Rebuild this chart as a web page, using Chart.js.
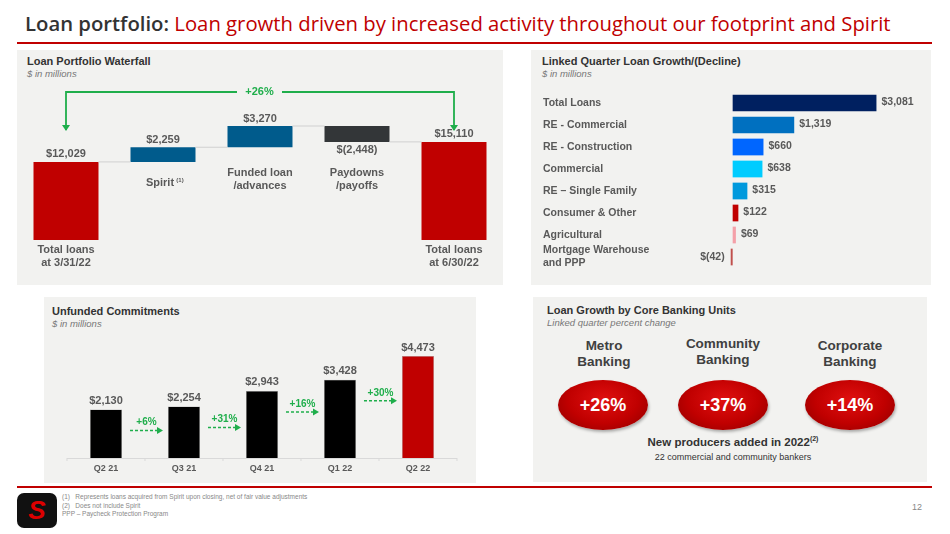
<!DOCTYPE html>
<html>
<head>
<meta charset="utf-8">
<script src="https://cdn.jsdelivr.net/npm/chart.js@4.4.0/dist/chart.umd.min.js"></script>
<style>
  body { margin:0; width:950px; height:534px; position:relative; background:#fff; font-family:"Liberation Sans", Arial, sans-serif; overflow:hidden; }
  .abs { position:absolute; }
  .panel { position:absolute; background:#f2f2f0; }
  .ptitle { position:absolute; font-size:11px; font-weight:bold; color:#333; }
  .psub { position:absolute; font-size:9.5px; font-style:italic; color:#777; }
  canvas { position:absolute; }
  .unit { position:absolute; text-align:center; font-weight:bold; color:#404040; font-size:13.5px; line-height:16px; width:120px; }
  .oval { position:absolute; width:90px; height:50px; border-radius:50%; background:radial-gradient(ellipse at 50% 40%, #e01010 0%, #c00000 55%, #8a0000 100%); color:#fff; font-weight:bold; font-size:18px; text-align:center; line-height:50px; box-shadow:1px 2px 3px rgba(0,0,0,0.3); }
</style>
</head>
<body>
<div class="abs" style="left:25px;top:9px;font-family:'Open Sans',sans-serif;font-size:20.3px;font-weight:600;color:#333;white-space:nowrap;">Loan portfolio: <span style="color:#c00000;font-weight:400;">Loan growth driven by increased activity throughout our footprint and Spirit</span></div>
<div class="abs" style="left:17px;top:42px;width:915px;height:2px;background:#c00000;"></div>

<div class="panel" style="left:17px;top:50px;width:486px;height:235px;"></div>
<div class="ptitle" style="left:27px;top:55px;">Loan Portfolio Waterfall</div>
<div class="psub" style="left:27px;top:68px;">$ in millions</div>
<canvas id="wf" style="left:17px;top:50px;width:486px;height:235px;" width="486" height="235"></canvas>

<div class="panel" style="left:531px;top:50px;width:400px;height:235px;"></div>
<div class="ptitle" style="left:542px;top:55px;">Linked Quarter Loan Growth/(Decline)</div>
<div class="psub" style="left:542px;top:68px;">$ in millions</div>
<canvas id="hb" style="left:531px;top:50px;width:400px;height:235px;" width="400" height="235"></canvas>

<div class="panel" style="left:44px;top:297px;width:432px;height:186px;"></div>
<div class="ptitle" style="left:52px;top:305px;">Unfunded Commitments</div>
<div class="psub" style="left:52px;top:318px;">$ in millions</div>
<canvas id="uc" style="left:44px;top:297px;width:432px;height:186px;" width="432" height="186"></canvas>

<div class="panel" style="left:533px;top:297px;width:394px;height:185px;"></div>
<div class="ptitle" style="left:547px;top:304px;">Loan Growth by Core Banking Units</div>
<div class="psub" style="left:547px;top:317px;">Linked quarter percent change</div>
<div class="unit" style="left:544px;top:338px;">Metro<br>Banking</div>
<div class="unit" style="left:663px;top:336px;">Community<br>Banking</div>
<div class="unit" style="left:790px;top:338px;">Corporate<br>Banking</div>
<div class="oval" style="left:558px;top:380px;">+26%</div>
<div class="oval" style="left:678px;top:380px;">+37%</div>
<div class="oval" style="left:805px;top:380px;">+14%</div>
<div class="abs" style="left:600px;top:435px;width:266px;text-align:center;font-size:11.5px;font-weight:bold;color:#333;">New producers added in 2022<sup style="font-size:7px;">(2)</sup></div>
<div class="abs" style="left:600px;top:452px;width:266px;text-align:center;font-size:9px;color:#333;">22 commercial and community bankers</div>

<div class="abs" style="left:17px;top:486px;width:915px;height:1.5px;background:#c00000;"></div>
<div class="abs" style="left:17px;top:493px;width:40px;height:35px;background:#111;border-radius:7px;color:#d00;font-weight:bold;font-style:italic;font-size:26px;text-align:center;line-height:35px;">S</div>
<div class="abs" style="left:62px;top:493px;font-size:6.5px;color:#888;line-height:8.5px;">(1)&nbsp;&nbsp; Represents loans acquired from Spirit upon closing, net of fair value adjustments<br>(2)&nbsp;&nbsp; Does not include Spirit<br>PPP – Paycheck Protection Program</div>
<div class="abs" style="left:912px;top:502px;font-size:9px;color:#888;">12</div>

<script>
// ---- waterfall data
const wfCats = ['Total loans\nat 3/31/22', 'Spirit', 'Funded loan\n/advances', 'Paydowns\n/payoffs', 'Total loans\nat 6/30/22'];
const wfStart = [0, 12029, 14288, 17558, 0];
const wfEnd = [12029, 14288, 17558, 15110, 15110];
const wfLabels = ['$12,029', '$2,259', '$3,270', '$(2,448)', '$15,110'];
const wfColors = ['#c00000', '#005b8c', '#005b8c', '#333638', '#c00000'];

// ---- linked quarter data
const lqCats = ['Total Loans', 'RE - Commercial', 'RE - Construction', 'Commercial', 'RE – Single Family', 'Consumer & Other', 'Agricultural', 'Mortgage Warehouse\nand PPP'];
const lqValues = [3081, 1319, 660, 638, 315, 122, 69, -42];
const lqColors = ['#002060', '#0070c0', '#0066ff', '#00ccff', '#0099dd', '#c00000', '#f4a0a8', '#c0504d'];

// ---- unfunded commitments
const ucCats = ['Q2 21', 'Q3 21', 'Q4 21', 'Q1 22', 'Q2 22'];
const ucValues = [2130, 2254, 2943, 3428, 4473];
const ucGrowth = ['+6%', '+31%', '+16%', '+30%'];
const ucColors = ['#000', '#000', '#000', '#000', '#c00000'];

const grey = '#595959', green = '#1fae4b';
const fmt = v => v < 0 ? '$(' + Math.abs(v).toLocaleString('en-US') + ')' : '$' + v.toLocaleString('en-US');

function lines(ctx, txt, x, y, lh) {
  txt.split('\n').forEach((t, i) => ctx.fillText(t, x, y + i * lh));
}
function arrowHead(ctx, x, y, dir) {
  ctx.beginPath();
  if (dir === 'down') { ctx.moveTo(x - 4, y - 6); ctx.lineTo(x + 4, y - 6); ctx.lineTo(x, y); }
  else { ctx.moveTo(x - 6, y - 3.5); ctx.lineTo(x - 6, y + 3.5); ctx.lineTo(x, y); }
  ctx.closePath(); ctx.fill();
}

const wfPlugin = {
  id: 'wfPlugin',
  afterDatasetsDraw(chart) {
    const ctx = chart.ctx, meta = chart.getDatasetMeta(0), y = chart.scales.y;
    ctx.save();
    // connectors
    ctx.strokeStyle = '#d0d0d0'; ctx.lineWidth = 1;
    for (let i = 0; i < 4; i++) {
      const b = meta.data[i], n = meta.data[i + 1];
      const yy = y.getPixelForValue(wfEnd[i]);
      ctx.beginPath(); ctx.moveTo(b.x + b.width / 2, yy); ctx.lineTo(n.x - n.width / 2, yy); ctx.stroke();
    }
    ctx.font = 'bold 11px "Liberation Sans"'; ctx.fillStyle = grey; ctx.textAlign = 'center';
    meta.data.forEach((b, i) => {
      const top = y.getPixelForValue(Math.max(wfStart[i], wfEnd[i]));
      const bot = y.getPixelForValue(Math.min(wfStart[i], wfEnd[i]));
      ctx.textBaseline = 'bottom';
      if (i === 3) { ctx.textBaseline = 'top'; ctx.fillText(wfLabels[i], b.x, bot + 3); }
      else ctx.fillText(wfLabels[i], b.x, top - 2);
      ctx.textBaseline = 'middle';
      if (i === 0 || i === 4) lines(ctx, wfCats[i], b.x, bot + 10, 13);
      else if (i === 1) { ctx.fillText(wfCats[i], b.x - 3, 133); ctx.font = 'bold 6px "Liberation Sans"'; ctx.fillText('(1)', b.x + 17, 130); ctx.font = 'bold 11px "Liberation Sans"'; }
      else lines(ctx, wfCats[i], b.x, 123, 13);
    });
    // +26% bracket
    const x0 = meta.data[0].x, x4 = meta.data[4].x, ty = 42;
    ctx.strokeStyle = green; ctx.fillStyle = green; ctx.lineWidth = 1.8;
    ctx.beginPath(); ctx.moveTo(x0, 80); ctx.lineTo(x0, ty); ctx.lineTo(220, ty);
    ctx.moveTo(265, ty); ctx.lineTo(x4, ty); ctx.lineTo(x4, 80); ctx.stroke();
    arrowHead(ctx, x0, 81, 'down'); arrowHead(ctx, x4, 81, 'down');
    ctx.font = 'bold 11px "Liberation Sans"'; ctx.textBaseline = 'middle';
    ctx.fillText('+26%', 242.5, ty);
    ctx.restore();
  }
};

new Chart(document.getElementById('wf'), {
  type: 'bar',
  data: { labels: wfCats, datasets: [{ data: wfStart.map((s, i) => [s, wfEnd[i]]), backgroundColor: wfColors, barPercentage: 0.67, categoryPercentage: 1 }] },
  options: {
    responsive: false, animation: false, events: [],
    layout: { padding: { left: 0.5, right: 0.5, top: 40, bottom: 43 } },
    plugins: { legend: { display: false }, tooltip: { enabled: false } },
    scales: { x: { display: false }, y: { display: false, min: -300, max: 23100 } }
  },
  plugins: [wfPlugin]
});

const lqPlugin = {
  id: 'lqPlugin',
  afterDatasetsDraw(chart) {
    const ctx = chart.ctx, meta = chart.getDatasetMeta(0);
    ctx.save();
    ctx.font = 'bold 10.5px "Liberation Sans"'; ctx.fillStyle = grey; ctx.textBaseline = 'middle';
    meta.data.forEach((b, i) => {
      ctx.textAlign = 'left';
      const ls = lqCats[i].split('\n');
      lines(ctx, lqCats[i], 12, b.y - (ls.length - 1) * 6.5, 13);
      if (lqValues[i] >= 0) { ctx.textAlign = 'left'; ctx.fillText(fmt(lqValues[i]), b.x + 5, b.y - 1); }
      else { ctx.textAlign = 'right'; ctx.fillText(fmt(lqValues[i]), b.x - 6, b.y); }
    });
    ctx.restore();
  }
};

new Chart(document.getElementById('hb'), {
  type: 'bar',
  data: { labels: lqCats, datasets: [{ data: lqValues, backgroundColor: lqColors, barPercentage: 0.76, categoryPercentage: 1 }] },
  options: {
    indexAxis: 'y', responsive: false, animation: false, events: [],
    layout: { padding: { left: 183, right: 35, top: 42, bottom: 17 } },
    plugins: { legend: { display: false }, tooltip: { enabled: false } },
    scales: { x: { display: false, min: -400, max: 3500 }, y: { display: false } }
  },
  plugins: [lqPlugin]
});

const ucPlugin = {
  id: 'ucPlugin',
  afterDatasetsDraw(chart) {
    const ctx = chart.ctx, meta = chart.getDatasetMeta(0), a = chart.chartArea;
    ctx.save();
    ctx.strokeStyle = '#d9d9d9'; ctx.lineWidth = 1;
    ctx.beginPath(); ctx.moveTo(a.left, a.bottom + 0.5); ctx.lineTo(a.right, a.bottom + 0.5);
    const step = (a.right - a.left) / ucCats.length;
    for (let i = 0; i <= ucCats.length; i++) { const x = a.left + i * step; ctx.moveTo(x, a.bottom); ctx.lineTo(x, a.bottom + 3); }
    ctx.stroke();
    ctx.textAlign = 'center'; ctx.fillStyle = grey;
    meta.data.forEach((b, i) => {
      ctx.font = 'bold 9px "Liberation Sans"'; ctx.textBaseline = 'middle';
      ctx.fillText(ucCats[i], b.x, a.bottom + 11);
      ctx.font = 'bold 11px "Liberation Sans"'; ctx.textBaseline = 'bottom';
      ctx.fillText(fmt(ucValues[i]), b.x, b.y - 3);
    });
    ctx.fillStyle = green; ctx.strokeStyle = green; ctx.lineWidth = 1.5;
    for (let i = 0; i < ucGrowth.length; i++) {
      const b = meta.data[i], n = meta.data[i + 1];
      const x1 = b.x + b.width / 2 + 8, x2 = n.x - n.width / 2 - 5, ay = b.y + 21;
      ctx.setLineDash([3, 2]);
      ctx.beginPath(); ctx.moveTo(x1, ay); ctx.lineTo(x2 - 5, ay); ctx.stroke();
      ctx.setLineDash([]);
      arrowHead(ctx, x2, ay, 'right');
      ctx.font = 'bold 10px "Liberation Sans"'; ctx.textBaseline = 'bottom';
      ctx.fillText(ucGrowth[i], (x1 + x2) / 2, ay - 3);
    }
    ctx.restore();
  }
};

new Chart(document.getElementById('uc'), {
  type: 'bar',
  data: { labels: ucCats, datasets: [{ data: ucValues, backgroundColor: ucColors, borderColor: '#999', borderWidth: 0.5, barPercentage: 0.41, categoryPercentage: 1 }] },
  options: {
    responsive: false, animation: false, events: [],
    layout: { padding: { left: 23, right: 19, top: 43, bottom: 25 } },
    plugins: { legend: { display: false }, tooltip: { enabled: false } },
    scales: { x: { display: false }, y: { display: false, min: 0, max: 5175 } }
  },
  plugins: [ucPlugin]
});
</script>
</body>
</html>
